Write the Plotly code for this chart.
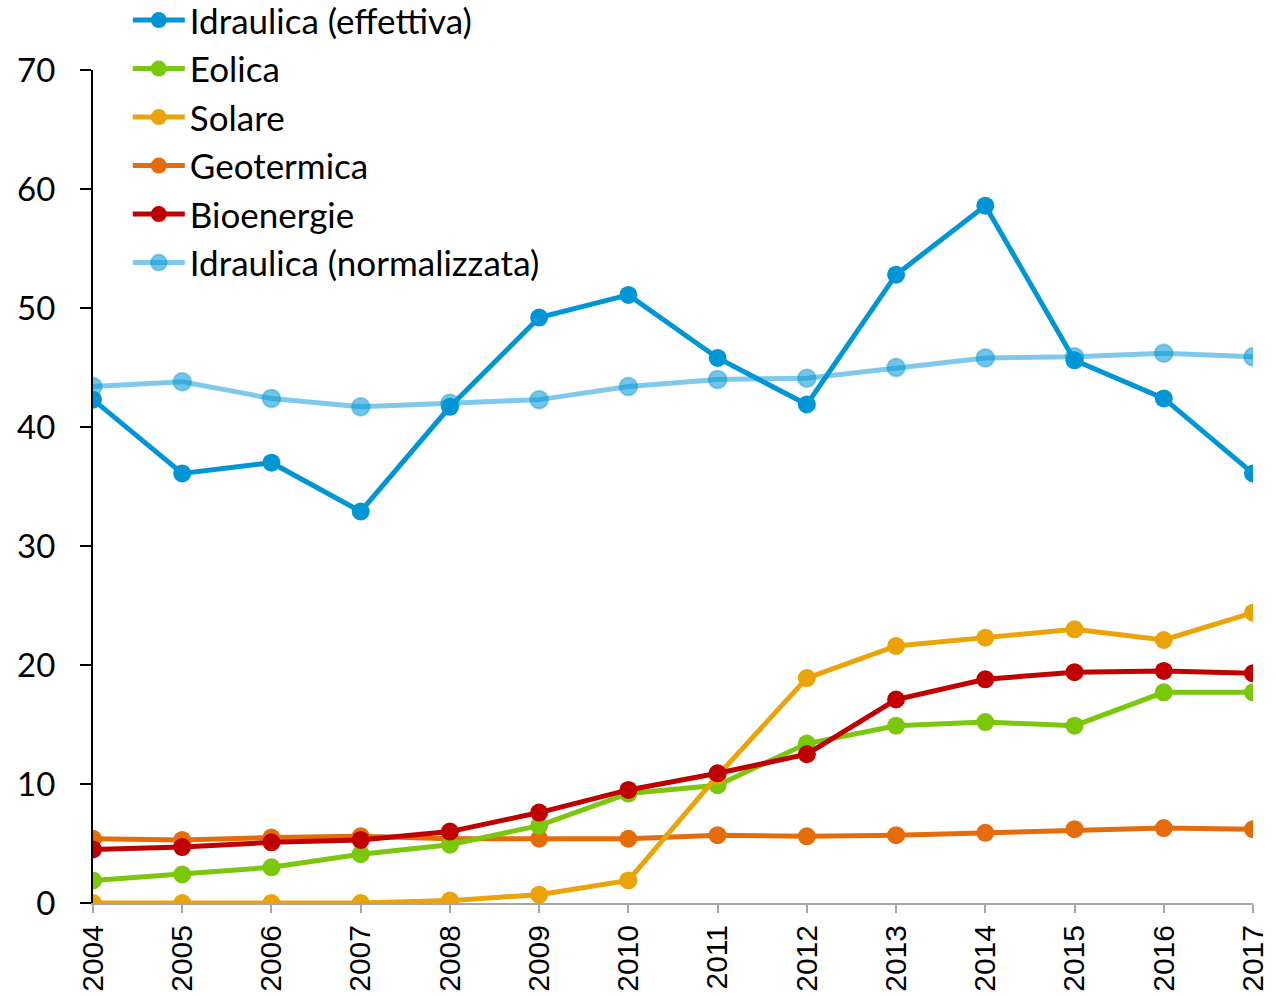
import plotly.graph_objects as go

years = list(range(2004, 2018))

idraulica_eff = [42.3, 36.1, 37.0, 32.9, 41.7, 49.2, 51.1, 45.8, 41.9, 52.8, 58.6, 45.6, 42.4, 36.1]
idraulica_norm = [43.4, 43.8, 42.4, 41.7, 42.0, 42.3, 43.4, 44.0, 44.1, 45.0, 45.8, 45.9, 46.2, 45.9]
eolica = [1.9, 2.4, 3.0, 4.1, 4.9, 6.5, 9.2, 9.9, 13.4, 14.9, 15.2, 14.9, 17.7, 17.7]
solare = [0.0, 0.0, 0.0, 0.0, 0.2, 0.7, 1.9, 10.7, 18.9, 21.6, 22.3, 23.0, 22.1, 24.4]
geotermica = [5.4, 5.3, 5.5, 5.6, 5.4, 5.4, 5.4, 5.7, 5.6, 5.7, 5.9, 6.2, 6.3, 6.2]
bioenergie = [4.5, 4.7, 5.1, 5.3, 6.0, 7.6, 9.5, 10.9, 12.5, 17.1, 18.8, 19.4, 19.5, 19.3]

y_ticks = [0, 10, 20, 30, 40, 50, 60, 70]

LEG_FONT = "Lato, 'Open Sans', sans-serif"

fig = go.Figure()

# normalized hydro drawn first (underneath), listed last in legend
fig.add_trace(go.Scatter(
    x=years, y=idraulica_norm, name="Idraulica (normalizzata)", mode="lines+markers",
    line=dict(color="rgba(0,150,214,0.5)", width=5),
    marker=dict(size=18, color="rgba(0,150,214,0.55)", line=dict(color="rgba(0,150,214,0.35)", width=2)),
    legendrank=6, legendgroup="g6",
))

series = [
    ("Geotermica", geotermica, "#E46C0A", 4),
    ("Eolica", eolica, "#7AC70C", 2),
    ("Solare", solare, "#EAA40A", 3),
    ("Bioenergie", bioenergie, "#C00000", 5),
    ("Idraulica (effettiva)", idraulica_eff, "#0096D6", 1),
]
for name, vals, col, rank in series:
    fig.add_trace(go.Scatter(
        x=years, y=vals, name=name, mode="lines+markers",
        line=dict(color=col, width=5),
        marker=dict(size=18, color=col),
        legendrank=rank, legendgroup="g%d" % rank,
    ))

fig.update_layout(
    width=1276, height=996,
    margin=dict(l=93, r=23, t=70, b=93, autoexpand=False),
    paper_bgcolor="white", plot_bgcolor="white",
    showlegend=True,
    legend=dict(
        x=0.03, y=1.095, xanchor="left", yanchor="top",
        font=dict(family=LEG_FONT, size=35, color="black"),
        bgcolor="rgba(0,0,0,0)", traceorder="grouped", tracegroupgap=0,
        itemwidth=52,
    ),
    xaxis=dict(
        range=[2004, 2017], tickmode="array", tickvals=years,
        ticktext=[str(y) for y in years], tickangle=-90,
        showline=True, linecolor="#A6A6A6", linewidth=2,
        ticks="outside", ticklen=8, tickcolor="#A6A6A6", tickwidth=2,
        showgrid=False, zeroline=False,
        tickfont=dict(family="Liberation Sans, Arial, sans-serif", size=30, color="black"),
    ),
    yaxis=dict(
        range=[0, 70], tickmode="array", tickvals=y_ticks,
        showline=True, linecolor="black", linewidth=2,
        ticks="outside", ticklen=11, tickcolor="black", tickwidth=2,
        showgrid=False, zeroline=False, ticklabelstandoff=18,
        tickfont=dict(family=LEG_FONT, size=33, color="black"),
    ),
)

fig.write_html("out.html")
